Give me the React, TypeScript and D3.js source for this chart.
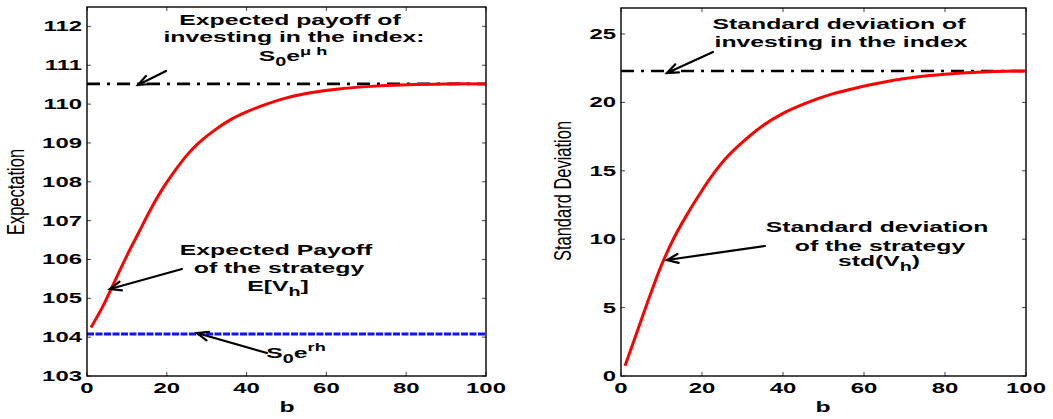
import React from "react";
import * as d3 from "d3";

// ---------- data ----------
const bLeft = [1, 4, 7, 10, 13, 16, 19, 22, 25, 28, 32, 36, 40, 45, 50, 56, 63, 70, 80, 90, 100];
const expectedPayoff = [104.25, 104.8, 105.45, 106.1, 106.7, 107.3, 107.83, 108.28, 108.68, 109.0, 109.33, 109.6, 109.8, 110.0, 110.16, 110.29, 110.39, 110.45, 110.5, 110.52, 110.52];
const indexExpectation = 110.52; // S0 e^{mu h}
const riskFreePayoff = 104.08; // S0 e^{rh}

const bRight = [1, 4, 7, 10, 13, 16, 19, 22, 26, 30, 35, 40, 46, 52, 59, 66, 73, 80, 88, 100];
const strategyStd = [0.75, 3.25, 5.75, 8.1, 10.05, 11.65, 13.1, 14.45, 15.95, 17.1, 18.3, 19.2, 19.98, 20.6, 21.12, 21.55, 21.85, 22.05, 22.2, 22.3];
const indexStd = 22.3;

const xTicks = [0, 20, 40, 60, 80, 100];
const yTicksLeft = [103, 104, 105, 106, 107, 108, 109, 110, 111, 112];
const yTicksRight = [0, 5, 10, 15, 20, 25];

const SX = 1.65;
const FONT = "'Liberation Sans', Arial, Helvetica, sans-serif";

function T({ x, y, anchor = "middle", size = 15, weight = "bold", children }: any) {
  return (
    <g transform={`translate(${x},${y}) scale(${SX},1)`}>
      <text textAnchor={anchor} fontSize={size} fontWeight={weight} fontFamily={FONT} fill="#000">
        {children}
      </text>
    </g>
  );
}

function Arrow({ x1, y1, x2, y2 }: any) {
  const a = Math.atan2(y2 - y1, x2 - x1);
  const L = 12;
  const sp = 0.38;
  const p1 = [x2 - L * Math.cos(a - sp), y2 - L * Math.sin(a - sp)];
  const p2 = [x2 - L * Math.cos(a + sp), y2 - L * Math.sin(a + sp)];
  return (
    <g stroke="#000" strokeWidth={2.2} fill="none" strokeLinecap="round">
      <line x1={x1} y1={y1} x2={x2} y2={y2} />
      <polyline points={`${p1[0]},${p1[1]} ${x2},${y2} ${p2[0]},${p2[1]}`} />
    </g>
  );
}

function Axes({ x, y, yTicks }: any) {
  const [x0, x1] = x.range();
  const [y0, y1] = y.range();
  const tl = 4;
  return (
    <g>
      {xTicks.map((t) => (
        <g key={"x" + t}>
          <line x1={x(t)} x2={x(t)} y1={y0} y2={y0 - tl} stroke="#444" strokeWidth={1} />
          <line x1={x(t)} x2={x(t)} y1={y1} y2={y1 + tl} stroke="#444" strokeWidth={1} />
          <T x={x(t)} y={y0 + 17} size={14.5}>{String(t)}</T>
        </g>
      ))}
      {yTicks.map((t: number) => (
        <g key={"y" + t}>
          <line x1={x0} x2={x0 + tl} y1={y(t)} y2={y(t)} stroke="#444" strokeWidth={1} />
          <line x1={x1} x2={x1 - tl} y1={y(t)} y2={y(t)} stroke="#444" strokeWidth={1} />
          <T x={x0 - 5} y={y(t) + 5} size={14.5} anchor="end">{String(t)}</T>
        </g>
      ))}
      <rect x={x0} y={y1} width={x1 - x0} height={y0 - y1} fill="none" stroke="#000" strokeWidth={1.4} />
    </g>
  );
}

export default function App() {
  const xL = d3.scaleLinear().domain([0, 100]).range([87, 486]);
  const yL = d3.scaleLinear().domain([103, 112.5]).range([376, 7]);
  const xR = d3.scaleLinear().domain([0, 100]).range([621, 1026]);
  const yR = d3.scaleLinear().domain([0, 26.9]).range([376, 8]);

  const lineL = d3
    .line<number>()
    .x((_, i) => xL(bLeft[i]))
    .y((d) => yL(d))
    .curve(d3.curveCatmullRom.alpha(0.5));
  const lineR = d3
    .line<number>()
    .x((_, i) => xR(bRight[i]))
    .y((d) => yR(d))
    .curve(d3.curveCatmullRom.alpha(0.5));

  return (
    <svg
      width={1053}
      height={419}
      style={{ position: "absolute", left: 0, top: 0, background: "#fff" }}
    >
      <rect x={0} y={0} width={1053} height={419} fill="#fff" />
      {/* ---------- Left panel ---------- */}
      <line x1={xL(0)} x2={xL(100)} y1={yL(riskFreePayoff)} y2={yL(riskFreePayoff)} stroke="#1010ff" strokeWidth={3} strokeDasharray="7 1.5" />
      <line x1={xL(0)} x2={xL(100)} y1={yL(indexExpectation)} y2={yL(indexExpectation)} stroke="#000" strokeWidth={2.6} strokeDasharray="13 7 3 7" />
      <path d={lineL(expectedPayoff) || ""} fill="none" stroke="#ff0000" strokeWidth={3} />
      <Axes x={xL} y={yL} yTicks={yTicksLeft} />

      <T x={290} y={25}>Expected payoff of</T>
      <T x={294} y={42}>investing in the index:</T>
      <T x={293} y={61}>
        S<tspan fontSize={12} dy={5}>0</tspan>
        <tspan dy={-5}>e</tspan>
        <tspan fontSize={11} dy={-6}>μ h</tspan>
      </T>
      <Arrow x1={166} y1={71} x2={138} y2={85} />

      <T x={276} y={255}>Expected Payoff</T>
      <T x={279} y={273}>of the strategy</T>
      <T x={278} y={291}>
        E[V<tspan fontSize={12} dy={5}>h</tspan>
        <tspan dy={-5}>]</tspan>
      </T>
      <Arrow x1={182} y1={269} x2={110} y2={289} />

      <T x={296} y={358}>
        S<tspan fontSize={12} dy={5}>0</tspan>
        <tspan dy={-5}>e</tspan>
        <tspan fontSize={11} dy={-7}>rh</tspan>
      </T>
      <Arrow x1={267} y1={353} x2={197} y2={333} />

      <T x={287} y={412}>b</T>
      <g transform={`translate(24,192) scale(1.5,1) rotate(-90)`}>
        <text textAnchor="middle" fontSize={16.5} fontFamily={FONT} fill="#000">Expectation</text>
      </g>

      {/* ---------- Right panel ---------- */}
      <line x1={xR(0)} x2={xR(100)} y1={yR(indexStd)} y2={yR(indexStd)} stroke="#000" strokeWidth={2.6} strokeDasharray="13 7 3 7" />
      <path d={lineR(strategyStd) || ""} fill="none" stroke="#ff0000" strokeWidth={3} />
      <Axes x={xR} y={yR} yTicks={yTicksRight} />

      <T x={839} y={29}>Standard deviation of</T>
      <T x={841} y={47}>investing in the index</T>
      <Arrow x1={713} y1={52} x2={667} y2={73} />

      <T x={877} y={232}>Standard deviation</T>
      <T x={880} y={251}>of the strategy</T>
      <T x={879} y={266}>
        std(V<tspan fontSize={12} dy={5}>h</tspan>
        <tspan dy={-5}>)</tspan>
      </T>
      <Arrow x1={765} y1={246} x2={667} y2={260} />

      <T x={823} y={412}>b</T>
      <g transform={`translate(571,191) scale(1.5,1) rotate(-90)`}>
        <text textAnchor="middle" fontSize={16.5} fontFamily={FONT} fill="#000">Standard Deviation</text>
      </g>
    </svg>
  );
}
